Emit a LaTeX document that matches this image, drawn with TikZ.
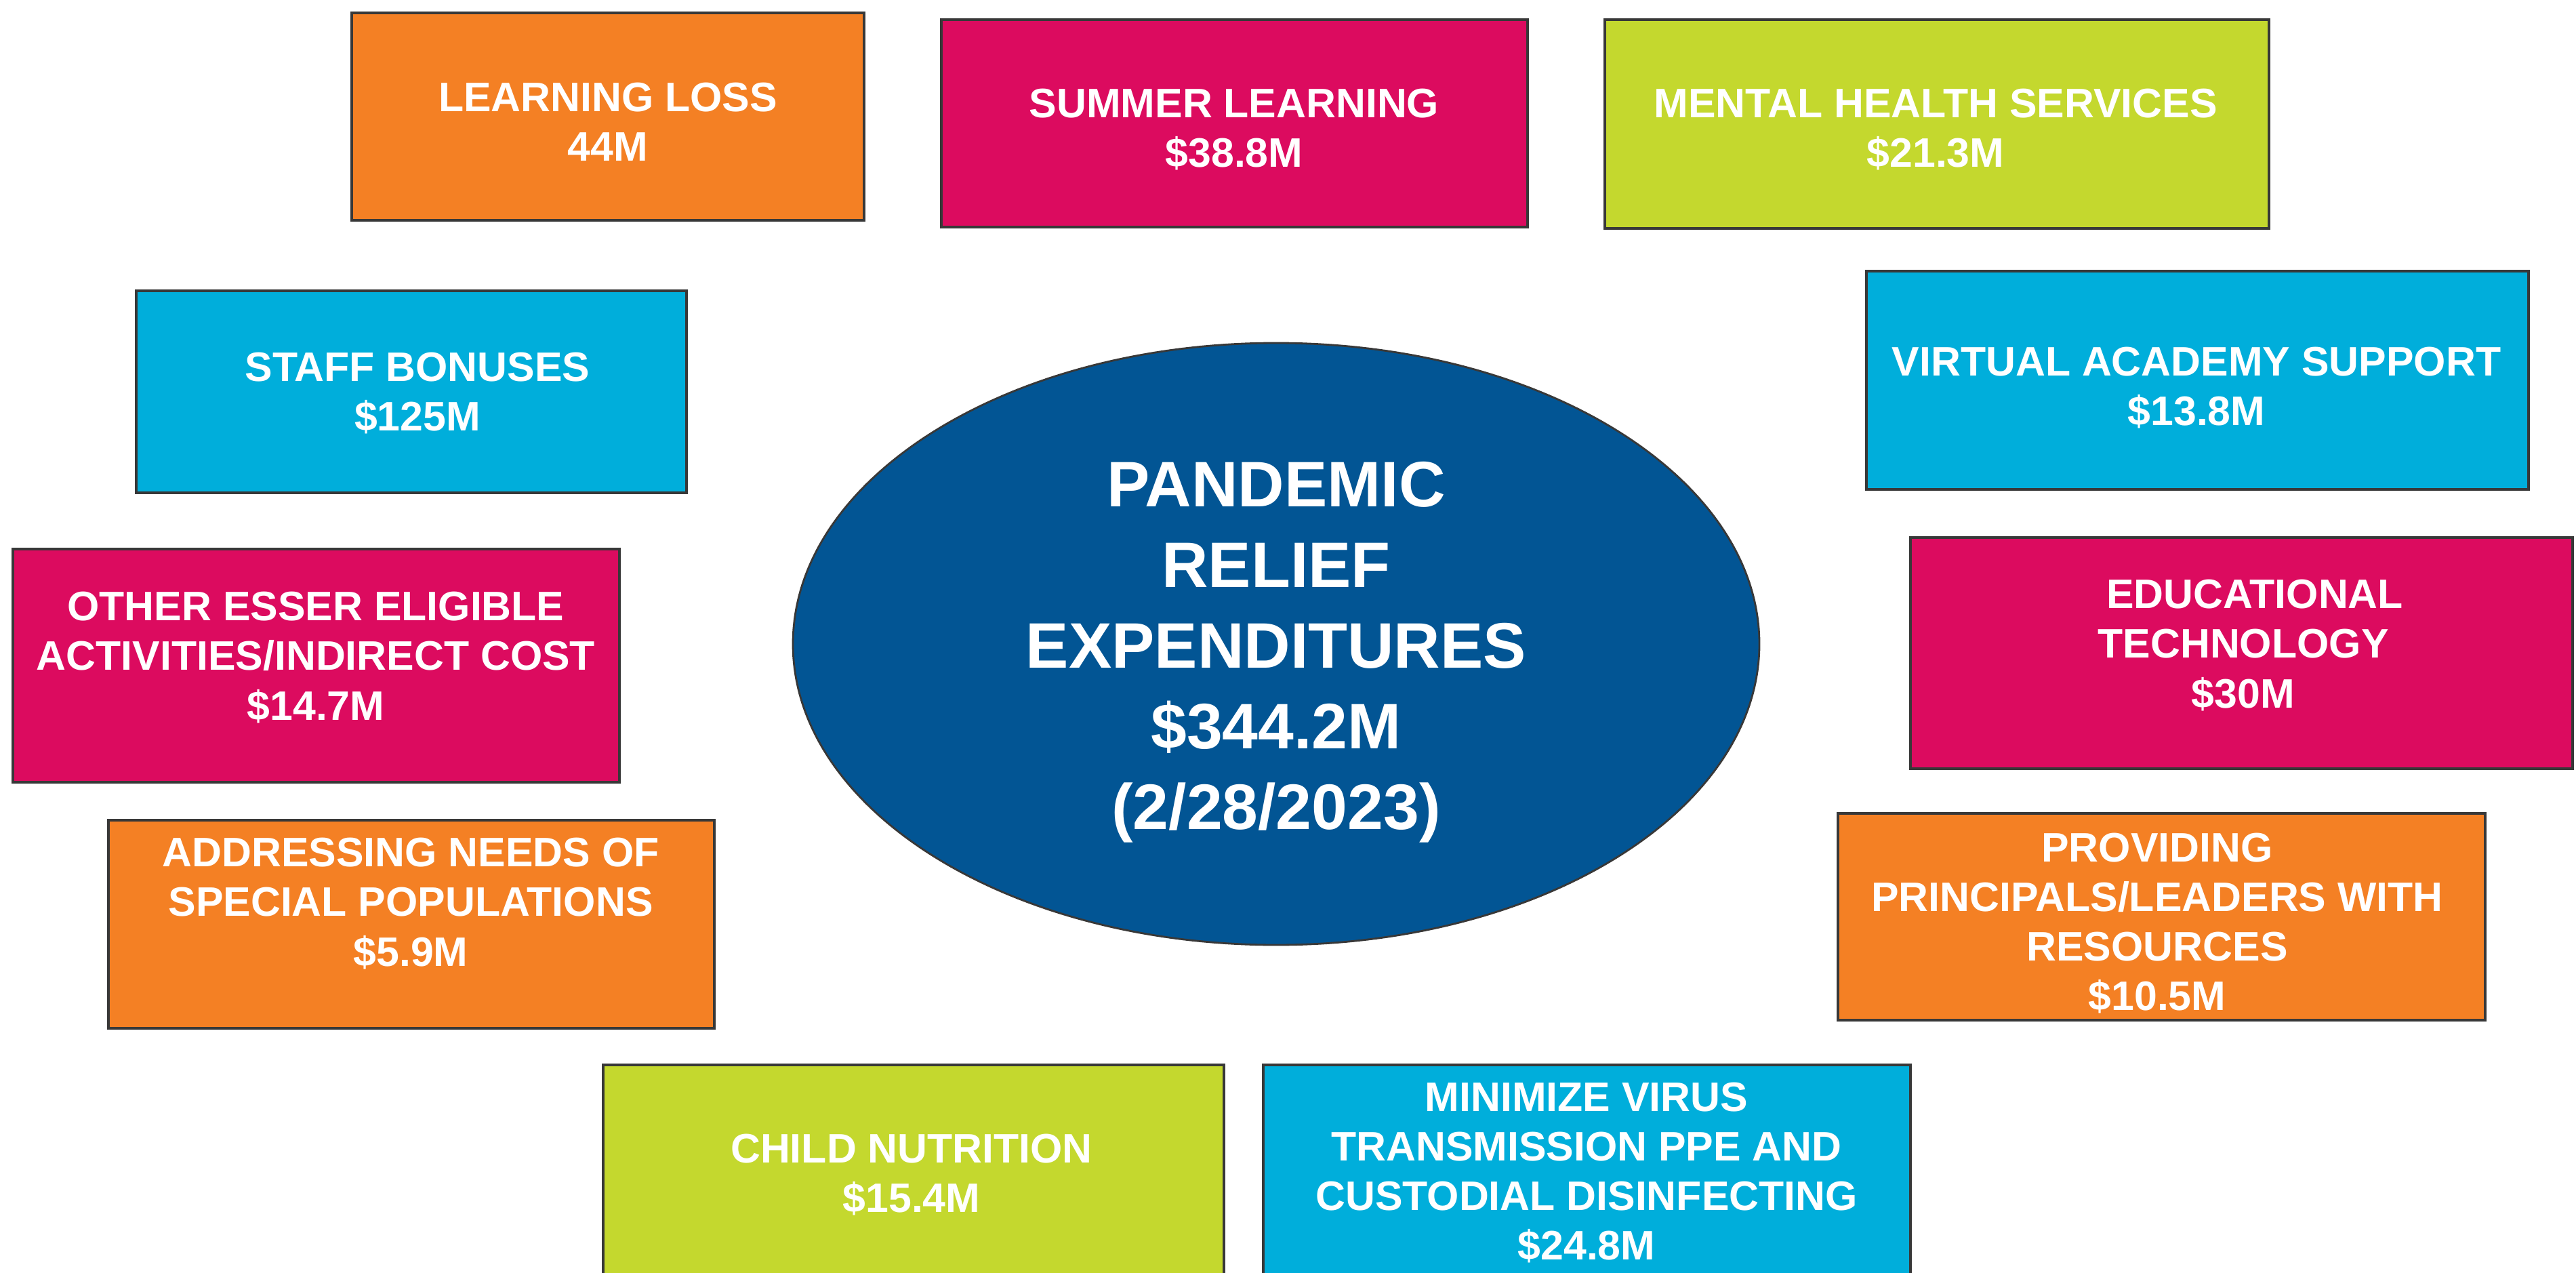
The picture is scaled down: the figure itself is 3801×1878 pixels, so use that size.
\documentclass[tikz,border=0pt]{standalone}
\usepackage{fontspec}
\setmainfont{Liberation Sans}
\usetikzlibrary{fit,shapes.geometric}
\definecolor{corange}{HTML}{F48024}
\definecolor{cmag}{HTML}{DC0B5F}
\definecolor{clime}{HTML}{C4D82E}
\definecolor{ccyan}{HTML}{00AEDB}
\definecolor{cblue}{HTML}{025594}
\definecolor{cborder}{HTML}{383838}
\begin{document}
\begin{tikzpicture}[x=0.1mm,y=-0.1mm,
  box/.style={draw=cborder,line width=1.1pt,inner sep=0pt},
  txt/.style={text=white,font=\fontsize{17.3pt}{20.8pt}\selectfont\bfseries,align=center,inner sep=0pt},
  ell/.style={ellipse,draw=cborder,line width=0.8pt,fill=cblue,minimum width=142.6mm,minimum height=88.8mm,inner sep=0pt},
  etxt/.style={text=white,align=center,inner sep=0pt,font=\fontsize{27pt}{33.9pt}\selectfont\bfseries}
]
\useasboundingbox (0,0) rectangle (3801,1878);
\fill[white] (0,0) rectangle (3801,1878);

% boxes
\node[box,fill=corange,fit={(519,19) (1275,325)}] (b1) {};
\node[txt] (t1) at (897,180) {LEARNING LOSS\\44M};

\node[box,fill=cmag,fit={(1389,29) (2254,335)}] (b2) {};
\node[txt] (t2) at (1821,191) {SUMMER LEARNING\\\$38.8M};

\node[box,fill=clime,fit={(2368,29) (3348,337)}] (b3) {};
\node[txt] (t3) at (2856,191) {MENTAL HEALTH SERVICES\\\$21.3M};

\node[box,fill=ccyan,fit={(201,429) (1013,727)}] (b4) {};
\node[txt] (t4) at (616,580) {STAFF BONUSES\\\$125M};

\node[box,fill=ccyan,fit={(2754,400) (3731,722)}] (b5) {};
\node[txt] (t5) at (3241,572) {VIRTUAL ACADEMY SUPPORT\\\$13.8M};

\node[box,fill=cmag,fit={(19,810) (914,1154)}] (b6) {};
\node[txt] (t6) at (466,970) {OTHER ESSER ELIGIBLE\\ACTIVITIES/INDIRECT COST\\\$14.7M};

\node[box,fill=cmag,fit={(2819,793) (3796,1134)}] (b7) {};
\node[txt] (t7) at (3310,952) {\hspace*{3.4mm}EDUCATIONAL\\TECHNOLOGY\\\$30M};

\node[box,fill=corange,fit={(160,1210) (1054,1517)}] (b8) {};
\node[txt] (t8) at (606,1333) {ADDRESSING NEEDS OF\\SPECIAL POPULATIONS\\\$5.9M};

\node[box,fill=corange,fit={(2712,1200) (3667,1505)}] (b9) {};
\node[txt] (t9) at (3183,1362) {PROVIDING\\PRINCIPALS/LEADERS WITH\\RESOURCES\\\$10.5M};

\node[box,fill=clime,fit={(890,1571) (1806,1882)}] (b10) {};
\node[txt] (t10) at (1345,1733) {CHILD NUTRITION\\\$15.4M};

\node[box,fill=ccyan,fit={(1864,1571) (2819,1882)}] (b11) {};
\node[txt] (t11) at (2341,1730) {MINIMIZE VIRUS\\TRANSMISSION PPE AND\\CUSTODIAL DISINFECTING\\\$24.8M};

% center ellipse
\node[ell] (c) at (1883,950) {};
\node[etxt] (ct) at (1883,962) {PANDEMIC\\RELIEF\\EXPENDITURES\\\$344.2M\\(2/28/2023)};
\end{tikzpicture}
\end{document}
